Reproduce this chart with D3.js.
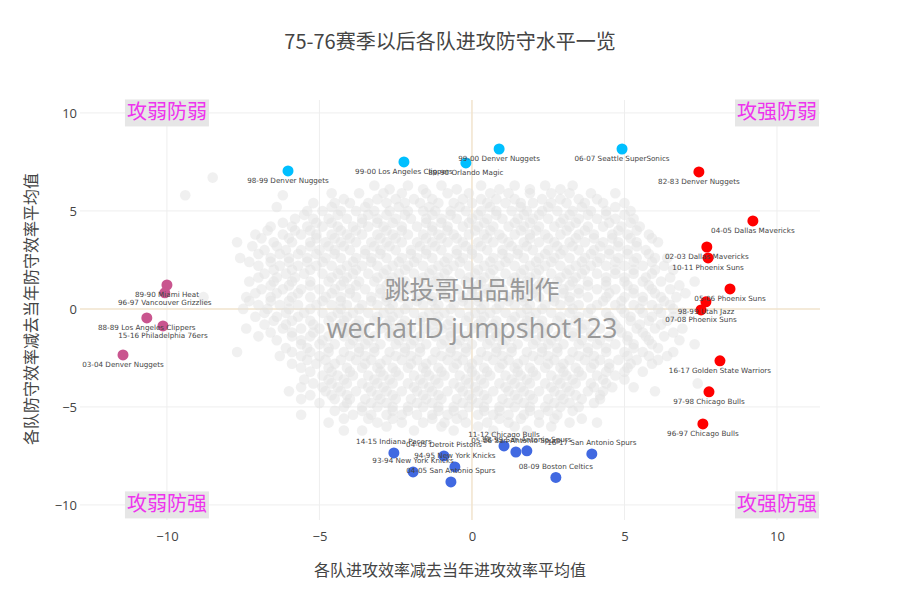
<!DOCTYPE html>
<html><head><meta charset="utf-8">
<script src="https://cdn.jsdelivr.net/npm/d3@7"></script>
<style>body{margin:0;background:#fff}</style>
</head><body><svg id="c" width="900" height="600"></svg>
<script>
const chartTitle = "75-76赛季以后各队进攻防守水平一览";
const xTitle = "各队进攻效率减去当年进攻效率平均值";
const yTitle = "各队防守效率减去当年防守效率平均值";
const xTicks = [-10, -5, 0, 5, 10];
const yTicks = [-10, -5, 0, 5, 10];
const cornerLabels = ["攻弱防弱", "攻强防弱", "攻弱防强", "攻强防强"];
const cornerX = [-10, 10, -10, 10];
const cornerY = [10, 10, -10, -10];
const watermark = ["跳投哥出品制作", "wechatID jumpshot123"];

// weak offense, weak defense (cyan)
const cyanNames = ["98-99 Denver Nuggets", "99-00 Los Angeles Clippers", "89-90 Orlando Magic", "99-00 Denver Nuggets", "06-07 Seattle SuperSonics"];
const cyanX = [-6.03, -2.23, -0.2, 0.89, 4.92];
const cyanY = [7.04, 7.5, 7.45, 8.16, 8.16];

// strong offense (red)
const redNames = ["82-83 Denver Nuggets", "04-05 Dallas Mavericks", "02-03 Dallas Mavericks", "10-11 Phoenix Suns", "05-06 Phoenix Suns", "98-99 Utah Jazz", "07-08 Phoenix Suns", "16-17 Golden State Warriors", "97-98 Chicago Bulls", "96-97 Chicago Bulls"];
const redX = [7.44, 9.21, 7.70, 7.74, 8.46, 7.67, 7.51, 8.13, 7.77, 7.57];
const redY = [6.99, 4.49, 3.16, 2.6, 1.02, 0.36, -0.05, -2.65, -4.23, -5.87];

// weakest offense (pink)
const pinkNames = ["89-90 Miami Heat", "96-97 Vancouver Grizzlies", "88-89 Los Angeles Clippers", "15-16 Philadelphia 76ers", "03-04 Denver Nuggets"];
const pinkX = [-10.0, -10.07, -10.66, -10.13, -11.44];
const pinkY = [1.22, 0.82, -0.46, -0.87, -2.35];

// strongest defense (blue)
const blueNames = ["14-15 Indiana Pacers", "04-05 Detroit Pistons", "93-94 New York Knicks", "94-95 New York Knicks", "04-05 San Antonio Spurs", "11-12 Chicago Bulls", "05-06 San Antonio Spurs", "98-99 San Antonio Spurs", "16-17 San Antonio Spurs", "08-09 Boston Celtics"];
const blueX = [-2.56, -0.92, -1.93, -0.56, -0.69, 1.05, 1.44, 1.8, 3.93, 2.75];
const blueY = [-7.35, -7.5, -8.32, -8.06, -8.83, -6.99, -7.3, -7.24, -7.4, -8.6];

// all other team-seasons (grey), listed as [y, [x values]] rows
const greyRows = [
 [6.7, [-8.5]],
 [5.8, [-9.4, -6.2]],
 [5.2, [-6.4]],
 [6.3, [-3.2, -2.1, -1.0, 0.3, 1.4, 2.4, 3.3]],
 [6.1, [-2.7, -1.6, -0.5, 0.9, 1.9, 2.9]],
 [5.9, [-4.6, -3.7, -2.9, -2.3, -1.5, -0.8, -0.1, 0.6, 1.2, 1.9, 2.6, 3.2, 3.9, 4.7]],
 [5.6, [-4.2, -3.1, -2.5, -1.9, -1.3, -0.3, 0.3, 0.8, 1.4, 2.3, 2.9, 3.5, 4.1]],
 [5.4, [-5.2, -4.5, -4.0, -3.4, -2.8, -2.2, -1.7, -1.1, -0.6, 0.0, 0.5, 1.1, 1.6, 2.0, 2.6, 3.1, 3.7, 4.3, 5.0]],
 [5.2, [-4.6, -3.5, -2.4, -1.4, -0.4, 0.6, 1.6, 2.5, 3.6, 4.7]],
 [5.0, [-5.4, -4.9, -4.3, -3.8, -3.2, -2.7, -2.1, -1.6, -1.2, -0.7, -0.2, 0.3, 0.8, 1.3, 1.8, 2.3, 2.8, 3.3, 3.9, 4.4, 5.2]],
 [4.8, [-5.5, -4.4, -3.4, -2.8, -2.2, -1.3, -0.7, 0.2, 0.8, 1.7, 2.2, 3.2, 3.8, 4.4, 5.0]],
 [4.6, [-5.8, -5.2, -4.7, -4.1, -3.6, -3.1, -2.5, -2.0, -1.5, -1.0, -0.5, 0.0, 0.5, 1.0, 1.5, 2.0, 2.5, 3.0, 3.5, 4.1, 4.7, 5.3]],
 [4.4, [-6.2, -5.1, -4.6, -3.6, -3.1, -2.6, -1.5, -1.0, -0.1, 0.4, 1.4, 1.9, 2.9, 3.4, 4.5, 5.2]],
 [4.2, [-6.6, -5.9, -5.4, -4.9, -4.4, -3.9, -3.4, -2.9, -2.3, -1.8, -1.3, -0.8, -0.3, 0.2, 0.7, 1.2, 1.7, 2.2, 2.7, 3.2, 3.8, 4.3, 4.9, 5.5]],
 [4.0, [-6.7, -5.8, -5.3, -4.3, -3.8, -2.8, -2.3, -1.3, -0.8, 0.1, 0.6, 1.6, 2.1, 3.1, 3.7, 4.8, 5.4]],
 [3.8, [-7.1, -6.2, -5.6, -5.1, -4.6, -4.1, -3.6, -3.1, -2.6, -2.1, -1.6, -1.1, -0.6, -0.1, 0.4, 0.9, 1.4, 1.9, 2.4, 2.9, 3.5, 4.0, 4.6, 5.1, 5.8]],
 [3.6, [-6.9, -6.0, -5.1, -4.5, -4.0, -3.0, -2.5, -1.5, -1.0, -0.5, 0.5, 1.0, 1.9, 2.5, 3.4, 4.0, 4.6, 5.2, 5.9]],
 [3.4, [-7.7, -6.5, -5.9, -5.3, -4.8, -4.3, -3.8, -3.3, -2.8, -2.3, -1.8, -1.3, -0.8, -0.3, 0.2, 0.7, 1.2, 1.7, 2.2, 2.7, 3.2, 3.7, 4.3, 4.8, 5.4, 6.1]],
 [3.2, [-7.2, -6.4, -5.3, -4.7, -4.2, -3.2, -2.7, -1.7, -1.2, -0.2, 0.3, 1.3, 1.8, 2.8, 3.3, 4.2, 4.8, 5.4]],
 [3.0, [-6.8, -6.1, -5.6, -5.0, -4.5, -4.0, -3.5, -3.0, -2.5, -2.0, -1.5, -1.0, -0.5, 0.0, 0.5, 1.0, 1.5, 2.0, 2.5, 3.0, 3.5, 4.0, 4.5, 5.1, 5.7]],
 [2.8, [-7.0, -6.3, -5.7, -5.1, -4.5, -3.5, -3.0, -2.0, -1.5, -0.5, 0.0, 1.0, 1.5, 2.4, 2.9, 3.9, 4.5, 5.1, 5.8]],
 [2.6, [-7.6, -6.6, -6.0, -5.4, -4.8, -4.3, -3.8, -3.3, -2.8, -2.3, -1.8, -1.3, -0.8, -0.3, 0.2, 0.7, 1.2, 1.7, 2.2, 2.7, 3.2, 3.7, 4.2, 4.8, 5.4, 6.0, 6.4]],
 [2.4, [-7.3, -6.6, -6.0, -5.4, -4.9, -3.9, -3.3, -2.4, -1.9, -0.9, -0.4, 0.6, 1.1, 2.1, 2.6, 3.6, 4.1, 4.7, 5.3, 5.9]],
 [2.2, [-7.0, -6.3, -5.7, -5.1, -4.6, -4.1, -3.6, -3.1, -2.6, -2.1, -1.6, -1.1, -0.6, -0.1, 0.4, 0.9, 1.4, 1.9, 2.4, 2.9, 3.4, 3.9, 4.4, 5.0, 5.6, 6.3]],
 [2.0, [-6.5, -5.9, -5.3, -4.3, -3.8, -2.8, -2.2, -1.3, -0.8, 0.2, 0.7, 1.7, 2.2, 3.2, 3.7, 4.7, 5.3, 6.0, 6.6]],
 [1.8, [-6.8, -6.1, -5.5, -4.9, -4.4, -3.9, -3.4, -2.9, -2.4, -1.9, -1.4, -0.9, -0.4, 0.1, 0.6, 1.1, 1.6, 2.1, 2.6, 3.1, 3.6, 4.1, 4.7, 5.3, 5.9]],
 [1.6, [-7.0, -6.4, -5.8, -4.6, -4.1, -3.1, -2.6, -1.6, -1.1, -0.1, 0.4, 1.4, 1.9, 2.9, 3.4, 4.4, 5.0, 5.7, 6.5]],
 [1.4, [-7.3, -6.5, -5.9, -5.3, -4.7, -4.2, -3.7, -3.2, -2.7, -2.2, -1.7, -1.2, -0.7, -0.2, 0.3, 0.8, 1.3, 1.8, 2.3, 2.8, 3.3, 3.8, 4.4, 5.0, 5.6, 6.2, 7.3]],
 [1.2, [-6.6, -6.0, -5.3, -4.3, -3.8, -2.8, -2.3, -1.3, -0.8, 0.2, 0.7, 1.7, 2.2, 3.2, 3.8, 4.4, 5.1, 5.8, 6.8]],
 [1.0, [-6.9, -6.2, -5.6, -5.0, -4.5, -4.0, -3.5, -3.0, -2.5, -2.0, -1.5, -1.0, -0.5, 0.0, 0.5, 1.0, 1.5, 2.0, 2.5, 3.0, 3.5, 4.1, 4.7, 5.3, 5.9, 6.5]],
 [0.8, [-7.1, -6.4, -5.7, -4.6, -4.0, -3.0, -2.5, -1.5, -1.0, 0.0, 0.5, 1.5, 2.0, 3.0, 3.5, 4.5, 5.3, 6.0, 7.0]],
 [0.6, [-8.8, -7.4, -6.6, -5.9, -5.3, -4.8, -4.3, -3.8, -3.3, -2.8, -2.3, -1.8, -1.3, -0.8, -0.3, 0.2, 0.7, 1.2, 1.7, 2.2, 2.7, 3.2, 3.8, 4.4, 5.0, 5.6, 6.2, 6.7]],
 [0.4, [-7.3, -6.6, -6.0, -4.9, -4.3, -3.3, -2.8, -1.8, -1.3, -0.3, 0.2, 1.2, 1.7, 2.7, 3.2, 4.3, 4.9, 5.6, 6.3]],
 [0.2, [-7.0, -6.3, -5.7, -5.1, -4.6, -4.1, -3.6, -3.1, -2.6, -2.1, -1.6, -1.1, -0.6, -0.1, 0.4, 0.9, 1.4, 1.9, 2.4, 2.9, 3.5, 4.1, 4.7, 5.3, 5.9, 6.5]],
 [0.0, [-7.5, -6.7, -6.0, -5.3, -4.3, -3.7, -2.7, -2.2, -1.2, -0.7, 0.3, 0.8, 1.8, 2.3, 3.3, 3.9, 4.9, 5.5, 6.1, 6.6]],
 [-0.2, [-6.8, -6.1, -5.5, -4.9, -4.4, -3.9, -3.4, -2.9, -2.4, -1.9, -1.4, -0.9, -0.4, 0.1, 0.6, 1.1, 1.6, 2.1, 2.6, 3.2, 3.8, 4.4, 5.0, 5.6, 6.2, 6.9]],
 [-0.4, [-7.1, -6.4, -5.7, -4.6, -4.1, -3.1, -2.6, -1.6, -1.1, -0.1, 0.4, 1.4, 1.9, 2.9, 3.5, 4.5, 5.2, 5.9, 6.6]],
 [-0.6, [-6.5, -5.9, -5.3, -4.7, -4.2, -3.7, -3.2, -2.7, -2.2, -1.7, -1.2, -0.7, -0.2, 0.3, 0.8, 1.3, 1.8, 2.3, 2.8, 3.4, 4.0, 4.6, 5.2, 5.8, 6.4]],
 [-0.8, [-6.8, -6.1, -5.2, -4.3, -3.8, -2.8, -2.3, -1.3, -0.8, 0.2, 0.7, 1.7, 2.2, 3.1, 3.7, 4.7, 5.5, 6.2]],
 [-1.0, [-7.4, -6.2, -5.6, -5.0, -4.5, -4.0, -3.5, -3.0, -2.5, -2.0, -1.5, -1.0, -0.5, 0.0, 0.5, 1.0, 1.5, 2.0, 2.5, 3.0, 3.6, 4.2, 4.8, 5.4, 6.0, 6.9]],
 [-1.2, [-6.6, -5.9, -5.2, -4.2, -3.7, -2.7, -2.2, -1.2, -0.7, 0.3, 0.8, 1.8, 2.3, 3.3, 3.9, 4.9, 5.6, 6.6]],
 [-1.4, [-7.0, -5.9, -5.3, -4.7, -4.2, -3.7, -3.2, -2.7, -2.2, -1.7, -1.2, -0.7, -0.2, 0.3, 0.8, 1.3, 1.8, 2.3, 2.8, 3.3, 3.9, 4.5, 5.1, 5.7, 6.3]],
 [-1.6, [-6.4, -5.6, -4.9, -3.9, -3.4, -2.4, -1.9, -0.9, -0.4, 0.6, 1.1, 2.1, 2.6, 3.6, 4.2, 5.1, 5.8, 6.8]],
 [-1.8, [-5.6, -5.0, -4.5, -4.0, -3.5, -3.0, -2.5, -2.0, -1.5, -1.0, -0.5, 0.0, 0.5, 1.0, 1.5, 2.0, 2.5, 3.0, 3.5, 4.1, 4.7, 5.3, 5.9, 7.3]],
 [-2.0, [-6.1, -5.4, -4.7, -3.7, -3.2, -2.2, -1.7, -0.7, -0.2, 0.8, 1.3, 2.3, 2.8, 3.8, 4.4, 5.3, 6.1]],
 [-2.2, [-7.7, -5.9, -5.3, -4.7, -4.2, -3.7, -3.2, -2.7, -2.2, -1.7, -1.2, -0.7, -0.2, 0.3, 0.8, 1.3, 1.8, 2.3, 2.8, 3.3, 3.8, 4.4, 5.0, 5.6, 6.6]],
 [-2.4, [-6.3, -5.6, -5.0, -4.0, -3.5, -2.5, -2.0, -1.0, -0.5, 0.5, 1.0, 2.0, 2.5, 3.5, 4.0, 5.1, 5.8, 6.4]],
 [-2.6, [-5.4, -4.8, -4.3, -3.8, -3.3, -2.8, -2.3, -1.8, -1.3, -0.8, -0.3, 0.2, 0.7, 1.2, 1.7, 2.2, 2.7, 3.2, 3.7, 4.2, 4.8, 5.4, 6.1]],
 [-2.8, [-5.9, -5.1, -4.5, -3.5, -3.0, -2.0, -1.5, -0.5, 0.0, 1.0, 1.5, 2.5, 3.0, 4.0, 4.5, 5.2, 5.9]],
 [-3.0, [-5.6, -4.7, -4.1, -3.6, -3.1, -2.6, -2.1, -1.6, -1.1, -0.6, -0.1, 0.4, 0.9, 1.4, 1.9, 2.4, 2.9, 3.4, 3.9, 4.5, 5.1]],
 [-3.2, [-5.3, -4.6, -4.0, -3.0, -2.5, -1.5, -1.0, 0.0, 0.5, 1.5, 2.0, 3.0, 3.5, 4.4, 5.0, 5.6]],
 [-3.4, [-4.9, -4.4, -3.9, -3.4, -2.9, -2.4, -1.9, -1.4, -0.9, -0.4, 0.1, 0.6, 1.1, 1.6, 2.1, 2.6, 3.1, 3.6, 4.1, 4.7]],
 [-3.6, [-5.5, -4.7, -4.2, -3.2, -2.7, -1.7, -1.2, -0.2, 0.3, 1.3, 1.8, 2.8, 3.3, 4.3, 5.0]],
 [-3.8, [-5.2, -4.6, -4.1, -3.6, -3.1, -2.6, -2.1, -1.6, -1.1, -0.6, -0.1, 0.4, 0.9, 1.4, 1.9, 2.4, 2.9, 3.4, 3.9, 4.4, 7.4]],
 [-4.0, [-5.6, -4.9, -4.4, -3.4, -2.9, -1.9, -1.4, -0.4, 0.1, 1.1, 1.6, 2.6, 3.1, 4.0, 4.6, 5.3]],
 [-4.2, [-6.0, -4.8, -4.3, -3.8, -3.3, -2.8, -2.3, -1.8, -1.3, -0.8, -0.3, 0.2, 0.7, 1.2, 1.7, 2.2, 2.7, 3.2, 3.8, 4.3, 6.0]],
 [-4.4, [-5.3, -4.6, -4.1, -3.1, -2.6, -1.6, -1.1, -0.1, 0.4, 1.4, 1.9, 2.9, 3.4, 4.2]],
 [-4.6, [-5.6, -4.5, -4.0, -3.5, -3.0, -2.5, -2.0, -1.5, -1.0, -0.5, 0.0, 0.5, 1.0, 1.5, 2.0, 2.5, 3.0, 3.6, 4.2]],
 [-4.8, [-5.0, -4.1, -3.3, -2.8, -1.8, -1.3, -0.3, 0.2, 1.2, 1.7, 2.7, 3.2, 4.0]],
 [-5.0, [-4.2, -3.6, -3.1, -2.6, -2.1, -1.6, -1.1, -0.6, -0.1, 0.4, 0.9, 1.4, 1.9, 2.4, 2.9, 3.5]],
 [-5.2, [-4.5, -3.6, -2.6, -2.1, -1.1, -0.6, 0.4, 0.9, 1.9, 2.5, 3.3]],
 [-5.4, [-5.6, -3.9, -3.3, -2.8, -2.3, -1.8, -1.3, -0.8, -0.3, 0.2, 0.7, 1.2, 1.7, 2.2, 2.8]],
 [-5.6, [-4.2, -3.4, -2.6, -1.3, -0.5, 0.9, 1.6, 2.7, 3.6]],
 [-5.8, [-4.7, -3.1, -2.3, -1.6, -0.9, -0.2, 0.5, 1.2, 2.2, 3.2, 4.1]],
 [-6.0, [-2.8, -1.0, 0.2, 1.4, 2.6]],
 [-6.2, [-4.2, -3.6, -1.9, -0.6, 0.7, 1.8]]
];

const svg = d3.select("#c");
const L = 80, R = 820, T = 100, B = 520;
const x = d3.scaleLinear().domain([-12.85, 11.41]).range([L, R]);
const y = d3.scaleLinear().domain([-10.77, 10.66]).range([B, T]);
const cjk = "'Noto Sans CJK SC', 'Open Sans', sans-serif";
const txt = "#444";

// grid
const g = svg.append("g");
g.selectAll(".gx").data(xTicks.filter(d => d !== 0)).enter().append("line")
  .attr("x1", d => x(d)).attr("x2", d => x(d)).attr("y1", T).attr("y2", B)
  .attr("stroke", "#eee").attr("stroke-width", 1);
g.selectAll(".gy").data(yTicks.filter(d => d !== 0)).enter().append("line")
  .attr("y1", d => y(d)).attr("y2", d => y(d)).attr("x1", L).attr("x2", R)
  .attr("stroke", "#eee").attr("stroke-width", 1);
g.append("line").attr("x1", x(0)).attr("x2", x(0)).attr("y1", T).attr("y2", B).attr("stroke", "#f1e3cd").attr("stroke-width", 1.5);
g.append("line").attr("y1", y(0)).attr("y2", y(0)).attr("x1", L).attr("x2", R).attr("stroke", "#f1e3cd").attr("stroke-width", 1.5);

// axes
const fmt = d => d < 0 ? "\u2212" + Math.abs(d) : d;
const xa = svg.append("g").attr("transform", `translate(0,${B + 12})`)
  .call(d3.axisBottom(x).tickValues(xTicks).tickSize(0).tickPadding(0).tickFormat(fmt));
xa.select(".domain").remove();
xa.selectAll("text").attr("fill", txt).style("font-family", "'Open Sans', sans-serif").style("font-size", "13px").attr("dy", "0.7em");
const ya = svg.append("g").attr("transform", `translate(${L - 3},0)`)
  .call(d3.axisLeft(y).tickValues(yTicks).tickSize(0).tickPadding(0).tickFormat(fmt));
ya.select(".domain").remove();
ya.selectAll("text").attr("fill", txt).style("font-family", "'Open Sans', sans-serif").style("font-size", "13px");

// grey points
const greyPts = [];
greyRows.forEach(r => r[1].forEach(v => greyPts.push([v, r[0]])));
svg.append("g").selectAll("circle").data(greyPts).enter().append("circle")
  .attr("cx", d => x(d[0])).attr("cy", d => y(d[1])).attr("r", 5.3)
  .attr("fill", "#e2e2e2").attr("fill-opacity", 0.5);

// highlighted groups
const groups = [
  {names: cyanNames, xs: cyanX, ys: cyanY, color: "#00bfff", pos: 1},
  {names: redNames, xs: redX, ys: redY, color: "#ff0000", pos: 1},
  {names: pinkNames, xs: pinkX, ys: pinkY, color: "#c9558f", pos: 1},
  {names: blueNames, xs: blueX, ys: blueY, color: "#4169e1", pos: -1}
];
groups.forEach(gr => {
  const data = gr.names.map((n, i) => ({n, x: gr.xs[i], y: gr.ys[i]}));
  const gg = svg.append("g");
  gg.selectAll("circle").data(data).enter().append("circle")
    .attr("cx", d => x(d.x)).attr("cy", d => y(d.y)).attr("r", 5.5).attr("fill", gr.color);
  gg.selectAll("text").data(data).enter().append("text")
    .attr("x", d => x(d.x)).attr("y", d => y(d.y) + gr.pos * 10.5)
    .attr("text-anchor", "middle").attr("dominant-baseline", "middle")
    .attr("fill", txt).style("font-family", "'DejaVu Sans', Verdana, sans-serif").style("font-size", "7.2px")
    .text(d => d.n);
});

// watermark
svg.append("text").attr("x", x(0)).attr("y", 292).attr("text-anchor", "middle").attr("dominant-baseline", "middle")
  .attr("fill", "#999").style("font-family", cjk).style("font-size", "25px").text(watermark[0]);
svg.append("text").attr("x", x(0)).attr("y", 331).attr("text-anchor", "middle").attr("dominant-baseline", "middle")
  .attr("fill", "#999").style("font-family", "'Open Sans', sans-serif").style("font-size", "27px").text(watermark[1]);

// corner labels
cornerLabels.forEach((t, i) => {
  const cx = x(cornerX[i]), cy = y(cornerY[i]);
  svg.append("rect").attr("x", cx - 42).attr("y", cy - 13.5).attr("width", 84).attr("height", 27).attr("fill", "#e6e6e6");
  svg.append("text").attr("x", cx).attr("y", cy + 1).attr("text-anchor", "middle").attr("dominant-baseline", "middle")
    .attr("fill", "#ee33ee").style("font-family", cjk).style("font-size", "20px").text(t);
});

// titles
svg.append("text").attr("x", 450).attr("y", 44).attr("text-anchor", "middle").attr("dominant-baseline", "middle")
  .attr("fill", txt).style("font-family", cjk).style("font-size", "20px").text(chartTitle);
svg.append("text").attr("x", 450).attr("y", 572).attr("text-anchor", "middle").attr("dominant-baseline", "middle")
  .attr("fill", txt).style("font-family", cjk).style("font-size", "16px").text(xTitle);
svg.append("text").attr("transform", `translate(33,${y(0)}) rotate(-90)`).attr("text-anchor", "middle").attr("dominant-baseline", "middle")
  .attr("fill", txt).style("font-family", cjk).style("font-size", "16px").text(yTitle);
</script></body></html>
